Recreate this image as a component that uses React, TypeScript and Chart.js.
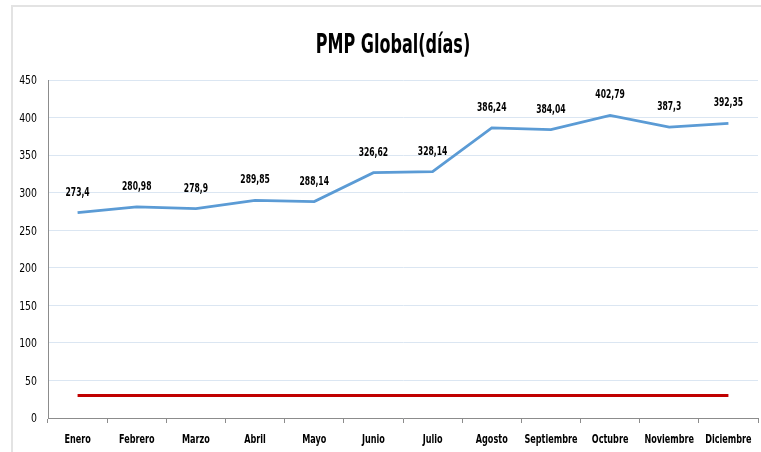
import React, { useEffect, useRef } from "react";
import { Chart, registerables } from "chart.js";

Chart.register(...registerables);

const titleText = "PMP Global(días)";
const months = ["Enero", "Febrero", "Marzo", "Abril", "Mayo", "Junio", "Julio", "Agosto", "Septiembre", "Octubre", "Noviembre", "Diciembre"];
const pmpValues = [273.4, 280.98, 278.9, 289.85, 288.14, 326.62, 328.14, 386.24, 384.04, 402.79, 387.3, 392.35];
const targetValues = [30, 30, 30, 30, 30, 30, 30, 30, 30, 30, 30, 30];
const yMin = 0;
const yMax = 450;
const yStep = 50;

const FONT = "'DejaVu Sans Condensed', 'DejaVu Sans', sans-serif";

function drawText(ctx: CanvasRenderingContext2D, text: string, x: number, y: number, font: string, sx: number, align: CanvasTextAlign, baseline: CanvasTextBaseline) {
  ctx.save();
  ctx.translate(x, y);
  ctx.scale(sx, 1);
  ctx.font = font;
  ctx.fillStyle = "#000";
  ctx.textAlign = align;
  ctx.textBaseline = baseline;
  ctx.fillText(text, 0, 0);
  ctx.restore();
}

const labelsPlugin = {
  id: "customLabels",
  afterDatasetsDraw(chart: any) {
    const ctx = chart.ctx;
    const meta = chart.getDatasetMeta(0);
    meta.data.forEach((pt: any, i: number) => {
      const txt = String(pmpValues[i]).replace(".", ",");
      drawText(ctx, txt, pt.x, pt.y - 17, `bold 12.5px ${FONT}`, 0.68, "center", "alphabetic");
    });
  },
  afterDraw(chart: any) {
    const ctx = chart.ctx;
    drawText(ctx, titleText, 393, 53, `bold 27px ${FONT}`, 0.66, "center", "alphabetic");
    const xs = chart.scales.x;
    months.forEach((m, i) => {
      drawText(ctx, m, xs.getPixelForTick(i), 443, `bold 12.7px ${FONT}`, 0.71, "center", "alphabetic");
    });
    const ys = chart.scales.y;
    ys.ticks.forEach((t: any) => {
      drawText(ctx, String(t.value), 37, ys.getPixelForValue(t.value) + 1, `13px ${FONT}`, 0.8, "right", "middle");
    });
  },
};

export default function App() {
  const ref = useRef<HTMLCanvasElement>(null);
  useEffect(() => {
    if (!ref.current) return;
    const chart = new Chart(ref.current, {
      type: "line",
      data: {
        labels: months,
        datasets: [
          {
            data: pmpValues,
            borderColor: "#5b9bd5",
            borderWidth: 2.75,
            pointRadius: 0,
            tension: 0,
          },
          {
            data: targetValues,
            borderColor: "#c00000",
            borderWidth: 3,
            pointRadius: 0,
            tension: 0,
          },
        ],
      },
      options: {
        animation: false,
        responsive: false,
        maintainAspectRatio: false,
        layout: { padding: { top: 80, left: 11, right: 3, bottom: 0 } },
        plugins: {
          legend: { display: false },
          title: { display: false },
          tooltip: { enabled: false },
        },
        scales: {
          x: {
            offset: true,
            grid: {
              offset: true,
              drawOnChartArea: false,
              drawTicks: true,
              tickLength: 5,
              color: "#8c8c8c",
            },
            border: { color: "#8c8c8c", width: 1 },
            ticks: {
              display: false,
              autoSkip: false,
            },
            afterFit(scale: any) {
              scale.height = 34;
            },
          },
          y: {
            min: yMin,
            max: yMax,
            grid: {
              color: "#dbe6f2",
              drawTicks: false,
              tickLength: 0,
            },
            border: { color: "#8c8c8c", width: 1 },
            ticks: {
              display: false,
              stepSize: yStep,
            },
            afterFit(scale: any) {
              scale.width = 37;
            },
          },
        },
      },
      plugins: [labelsPlugin],
    });
    return () => chart.destroy();
  }, []);
  return (
    <div style={{ position: "fixed", left: 0, top: 0, width: 761, height: 452, background: "#fff" }}>
      <div
        style={{
          position: "absolute",
          left: 11,
          top: 5,
          right: 0,
          bottom: 0,
          borderLeft: "2px solid #e3e3e3",
          borderTop: "2px solid #e3e3e3",
        }}
      />
      <canvas ref={ref} width={761} height={452} style={{ position: "absolute", left: 0, top: 0 }} />
    </div>
  );
}
